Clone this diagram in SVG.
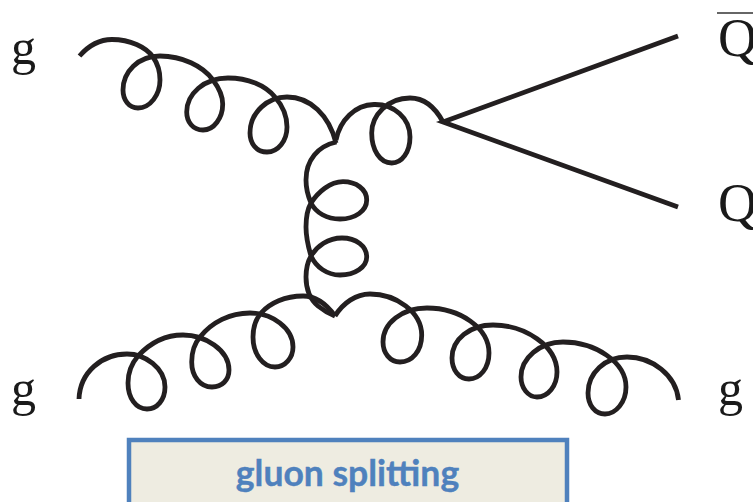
<svg xmlns="http://www.w3.org/2000/svg" width="753" height="502" viewBox="0 0 753 502">
<style>
.g{fill:none;stroke:#231f20;stroke-width:4.8;stroke-linejoin:miter;stroke-linecap:butt}
.t{font-family:"Liberation Serif",serif;fill:#1a1a1a}
</style>
<rect width="753" height="502" fill="#ffffff"/>
<g id="connectors">
<path class="g" d="M79.5 56C90 44 101 39.500 112 39.500C130 39.500 146 47 153 57C158 64 160 72 160 80C160 95 150 108 138 108C129 108 123 100 123 90C123 72 138 56 160 56C182 56 203 66 213 80C219 88 222.700 95 222.700 104C222.700 118 214 130 203 130C193 130 186.700 122 186.700 112C186.700 94 204 78 228 78C248 78 265 85 275 97C282 105 287 115 287 127C287 141 278 152 267 152C256 152 250 143 250 133C250 112 268 97 287 97C310 97 329 115 336 143"/>
<path class="g" d="M336 140C340 120 355 105 374 104.500C394 104 410 118 410 137C410 152 402 163 391.700 163C380 163 371.700 150 371.700 133C371.700 115 388 98 410 98C425 98 435 107 443 122"/>
<path class="g" d="M336.500 142C318 146 306 160 306 180C306 188 308 196 311 203C316 213 327 219 340 219C355 219 366.700 211 366.700 200C366.700 189 356 181.700 343 181.700C330 181.700 318 192 311 203C307 210 306 218 306 227C306 236 308 246 311 256C316 267 327 275 340 275C355 275 366.700 267 366.700 257C366.700 246 356 238 342 238C328 238 317 246 311 256C307 263 306 270 306 277C306 290 311 300 318 306C324 311 330 314 335 316"/>
<path class="g" d="M79 399C80 372 102 354 127 354C145 354 165 368 165 387C165 400 157 409 147 409C136 409 128 398 128 383C128 372 132 363 138 356C150 343 165 335 183 335C205 335 229 350 229 370C229 380 222 387 212 387C200 387 191.700 376 191.700 362C191.700 352 194 344 200 337C212 322 230 313 250 313C272 313 293 328 293 347C293 358 285 367 275 367C263 367 253 354 253 337C253 328 255 320 261 313C270 303 285 296 303 296C316 296 327 305 335 316"/>
<path class="g" d="M335 316C343 303 356 294 370 294C396 294 421.700 312 421.700 335C421.700 351 412 362 400 362C390 362 383 353 383 342C383 323 402 308 427 308C460 308 489 328 489 353C489 368 480 379 469 379C459 379 452 370 452 358C452 339 470 325 493 325C525 325 557 346 557 372C557 386 548 397 537 397C528 397 521 388 521 377C521 358 540 342 563 342C595 342 626 362 626 387C626 402 616 414 605 414C595 414 588 405 588 393C588 373 605 357 627 357C652 357 676 375 678.500 400"/>
<path class="g" d="M678 36L443 122L678 207"/>
</g>
<g id="label-g-top"><text class="t" x="11" y="64" font-size="50">g</text></g>
<g id="label-g-bottom-left"><text class="t" x="11" y="405" font-size="50">g</text></g>
<g id="label-g-bottom-right"><text class="t" x="718" y="405" font-size="50">g</text></g>
<g id="label-qbar"><line x1="717" y1="13" x2="753" y2="13" stroke="#333" stroke-width="1.600"/><text class="t" x="718" y="56" font-size="54">Q</text></g>
<g id="label-q"><text class="t" x="718" y="221" font-size="54">Q</text></g>
<g id="caption">
<rect x="129" y="440" width="438" height="70" fill="#eeece1" stroke="#4f81bd" stroke-width="4.500"/>
<text x="347.500" y="486" text-anchor="middle" font-family="Lato,sans-serif" font-weight="700" font-size="35.500" fill="#4f81bd" stroke="#4f81bd" stroke-width="0.400">gluon splitting</text>
</g>
</svg>
